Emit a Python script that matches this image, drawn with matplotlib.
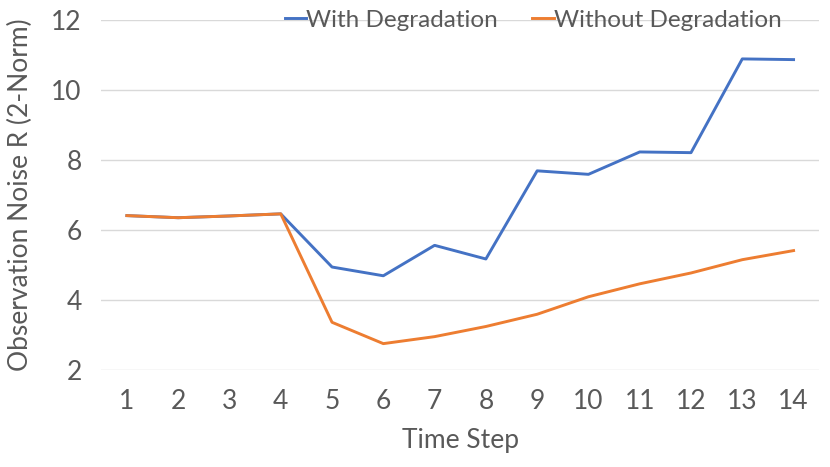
import matplotlib
matplotlib.use('Agg')
import matplotlib.pyplot as plt

plt.rcParams['font.family'] = ['Lato', 'DejaVu Sans']

steps = list(range(1, 15))
with_deg = [6.41, 6.35, 6.40, 6.46, 4.94, 4.69, 5.56, 5.17, 7.69, 7.59, 8.23, 8.21, 10.89, 10.87]
without_deg = [6.41, 6.35, 6.40, 6.46, 3.36, 2.75, 2.95, 3.24, 3.59, 4.09, 4.46, 4.77, 5.15, 5.41]
y_ticks = [2, 4, 6, 8, 10, 12]

gray = '#595959'

fig = plt.figure(figsize=(8.3, 4.67), dpi=100)
ax = fig.add_axes([0.122, 0.208, 0.865, 0.749])

ax.plot(steps, with_deg, color='#4472C4', lw=2.1, label='With Degradation')
ax.plot(steps, without_deg, color='#ED7D31', lw=2.1, label='Without Degradation')

ax.set_xlim(0.5, 14.5)
ax.set_ylim(2, 12)
ax.set_xticks(steps)
ax.set_yticks(y_ticks)
ax.grid(axis='y', color='#D9D9D9', lw=1)
ax.set_axisbelow(True)
for s in ax.spines.values():
    s.set_visible(False)
ax.tick_params(length=0, labelsize=19, colors=gray, pad=14)
ax.tick_params(axis='y', pad=14)

ax.set_xlabel('Time Step', fontsize=19, color=gray, labelpad=10)
ax.set_ylabel('Observation Noise R (2-Norm)', fontsize=19, color=gray, labelpad=13)

leg = ax.legend(loc='center right', bbox_to_anchor=(0.948, 1.0), ncol=2, frameon=False,
                fontsize=17.5, handlelength=0.9, handletextpad=0.0, columnspacing=1.4,
                borderaxespad=0, borderpad=0)
for t in leg.get_texts():
    t.set_color(gray)

fig.savefig('out.png', dpi=100)
